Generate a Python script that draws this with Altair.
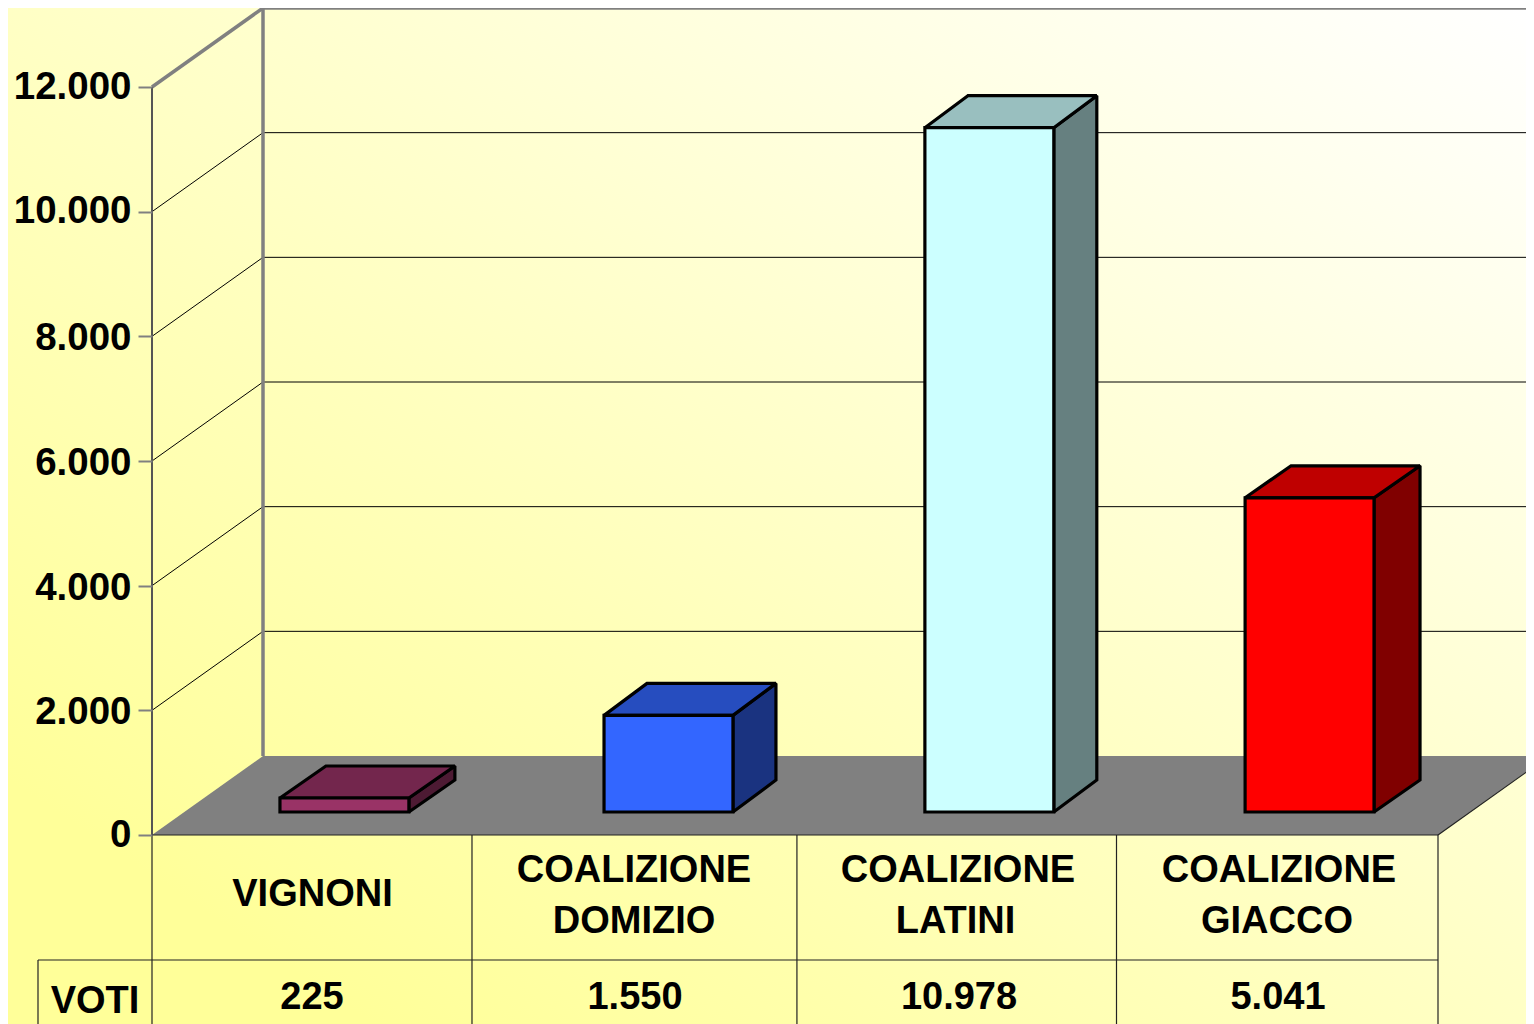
import altair as alt
import pandas as pd

# ---- chart values ----
CATEGORIES = ["VIGNONI", "COALIZIONE DOMIZIO", "COALIZIONE LATINI", "COALIZIONE GIACCO"]
VOTES = [225, 1550, 10978, 5041]
VOTE_LABELS = ["225", "1.550", "10.978", "5.041"]
TICKS = [0, 2000, 4000, 6000, 8000, 10000, 12000]
FRONT = ["#993366", "#3366FF", "#CCFFFF", "#FF0000"]
TOP = ["#73264D", "#264DBF", "#99BFBF", "#BF0000"]
SIDE = ["#4D1A33", "#1A3380", "#668080", "#800000"]

# ---- layout: one x unit = one category width, y unit = votes ----
PX_X = 321.5
PX_Y = 748 / 12000
W, H = 1374, 827
XMAX, YMAX = W / PX_X, H / PX_Y
XMIN_PAGE = -144 / PX_X
YMIN_PAGE = -189 / PX_Y
CELL_EDGES = [0, 0.9953, 2.006, 3.0, 4.0]
BAR_SLOT = [0.398, 1.406, 2.404, 3.400]
BAR_W = 0.401
WALL_DX, WALL_DY = 111 / PX_X, 79 / PX_Y
BAR_DX_PX = [46, 43, 43, 46]
BAR_DY = 32 / PX_Y
BAR_BASE = 23 / PX_Y
ROW_LINE = -125 / PX_Y
FONT = "Liberation Sans"

xs = alt.Scale(domain=[0, XMAX], nice=False, zero=False)
ys = alt.Scale(domain=[0, YMAX], nice=False, zero=False)
y_axis = alt.Axis(
    values=TICKS, domain=False, grid=False, zindex=1,
    tickColor="#808080", tickSize=14, tickWidth=2,
    labelFont=FONT, labelFontWeight="bold", labelFontSize=38.5, labelColor="#000000",
    labelPadding=7, labelOverlap=False, labelFlush=False,
    labelOffset={"condition": {"test": "datum.value > 0 && datum.value <= 8000", "value": 1.5}, "value": -1},
    labelExpr="replace(format(datum.value, ','), ',', '.')",
)


def X(f="x"):
    return alt.X(f"{f}:Q", scale=xs, axis=None, title=None)


def Y(f="y"):
    return alt.Y(f"{f}:Q", scale=ys, axis=y_axis, title=None)


def seg(rows, color, width):
    return alt.Chart(pd.DataFrame(rows)).mark_rule(color=color, strokeWidth=width).encode(
        x=X(), x2="x2:Q", y=Y(), y2="y2:Q"
    )


bg = alt.Chart(pd.DataFrame([{"x": XMIN_PAGE, "x2": XMAX, "y": YMIN_PAGE, "y2": YMAX}])).mark_rect(
    color=alt.LinearGradient(
        gradient="linear", x1=0, y1=1, x2=1, y2=0,
        stops=[alt.GradientStop(color="#FFFF99", offset=0.12),
               alt.GradientStop(color="#FFFFFF", offset=1)],
    )
).encode(x=X(), x2="x2:Q", y=Y(), y2="y2:Q")

grid_ticks = TICKS[1:-1]
side_grid = seg([{"x": 0, "x2": WALL_DX, "y": t, "y2": t + WALL_DY} for t in grid_ticks], "#000000", 1)
back_grid = seg([{"x": WALL_DX, "x2": XMAX, "y": t + WALL_DY, "y2": t + WALL_DY} for t in grid_ticks], "#000000", 1)

top = TICKS[-1]
walls = seg(
    [
        {"x": WALL_DX, "x2": WALL_DX, "y": WALL_DY, "y2": top + WALL_DY},
        {"x": 0, "x2": WALL_DX, "y": top, "y2": top + WALL_DY},
        {"x": WALL_DX, "x2": XMAX, "y": top + WALL_DY, "y2": top + WALL_DY},
    ],
    "#808080", 3.5,
)
front_edge = seg([{"x": 0, "x2": 0, "y": 0, "y2": top}], "#555555", 2)

floor = alt.Chart(pd.DataFrame([
    {"y": 0, "x": 0, "x2": CELL_EDGES[-1]},
    {"y": WALL_DY, "x": WALL_DX, "x2": CELL_EDGES[-1] + WALL_DX},
])).mark_area(orient="horizontal", color="#808080").encode(x=X(), x2="x2:Q", y=Y())

table = seg(
    [{"x": 0, "x2": CELL_EDGES[-1], "y": 0, "y2": 0},
     {"x": -114 / PX_X, "x2": CELL_EDGES[-1], "y": ROW_LINE, "y2": ROW_LINE},
     {"x": -114 / PX_X, "x2": -114 / PX_X, "y": ROW_LINE, "y2": YMIN_PAGE},
     {"x": CELL_EDGES[-1], "x2": CELL_EDGES[-1] + WALL_DX, "y": 0, "y2": WALL_DY}]
    + [{"x": e, "x2": e, "y": 0, "y2": YMIN_PAGE} for e in CELL_EDGES],
    "#222222", 1.2,
)

# ---- 3D bars, all derived from VOTES ----
front_rows, side_rows, top_rows = [], [], []
for i, v in enumerate(VOTES):
    L, R = BAR_SLOT[i], BAR_SLOT[i] + BAR_W
    dx = BAR_DX_PX[i] / PX_X
    lo, hi = BAR_BASE, BAR_BASE + v
    front_rows.append({"x": L, "x2": R, "y": lo, "y2": hi, "c": FRONT[i]})
    side_rows += [
        {"b": i, "x": R, "y": lo, "y2": hi, "c": SIDE[i]},
        {"b": i, "x": R + dx, "y": lo + BAR_DY, "y2": hi + BAR_DY, "c": SIDE[i]},
    ]
    top_rows += [
        {"b": i, "y": hi, "x": L, "x2": R, "c": TOP[i]},
        {"b": i, "y": hi + BAR_DY, "x": L + dx, "x2": R + dx, "c": TOP[i]},
    ]

style = dict(stroke="#000000", strokeWidth=3.2, strokeJoin="miter", strokeMiterLimit=2)
col = alt.Color("c:N", scale=None, legend=None)
front = alt.Chart(pd.DataFrame(front_rows)).mark_rect(**style).encode(
    x=X(), x2="x2:Q", y=Y(), y2="y2:Q", color=col)
side = alt.Chart(pd.DataFrame(side_rows)).mark_area(**style).encode(
    x=X(), y=Y(), y2="y2:Q", color=col, detail="b:N")
roof = alt.Chart(pd.DataFrame(top_rows)).mark_area(orient="horizontal", **style).encode(
    x=X(), x2="x2:Q", y=Y(), color=col, detail="b:N")

# ---- table text ----
LINE_1 = ["COALIZIONE", "COALIZIONE", "COALIZIONE"]
LINE_2 = ["DOMIZIO", "LATINI", "GIACCO"]
text_rows = [{"x": (312.5 - 152) / PX_X, "y": (835 - 895) / PX_Y, "t": CATEGORIES[0]}]
for k, (a, b, cx1, cx2) in enumerate(zip(LINE_1, LINE_2, [634, 958, 1279], [634, 955.5, 1277])):
    text_rows.append({"x": (cx1 - 152) / PX_X, "y": (835 - 871) / PX_Y, "t": a})
    text_rows.append({"x": (cx2 - 152) / PX_X, "y": (835 - 921.5) / PX_Y, "t": b})
for lab, cx in zip(VOTE_LABELS, [312, 635, 959, 1278]):
    text_rows.append({"x": (cx - 152) / PX_X, "y": (835 - 998) / PX_Y, "t": lab})
text_rows.append({"x": (95 - 152) / PX_X, "y": (835 - 1001.5) / PX_Y, "t": "VOTI"})

labels = alt.Chart(pd.DataFrame(text_rows)).mark_text(
    font=FONT, fontWeight="bold", fontSize=38, color="#000000", align="center", baseline="middle"
).encode(x=X(), y=Y(), text="t:N")

chart = alt.layer(
    bg, side_grid, back_grid, walls, front_edge, floor, table, side, roof, front, labels
).properties(
    width=W, height=H,
    padding={"left": 144, "top": 0, "right": 0, "bottom": 189},
    autosize=alt.AutoSizeParams(type="none"),
).configure_view(stroke=None)

chart.save("out.html", embed_options={"renderer": "svg", "actions": False})
